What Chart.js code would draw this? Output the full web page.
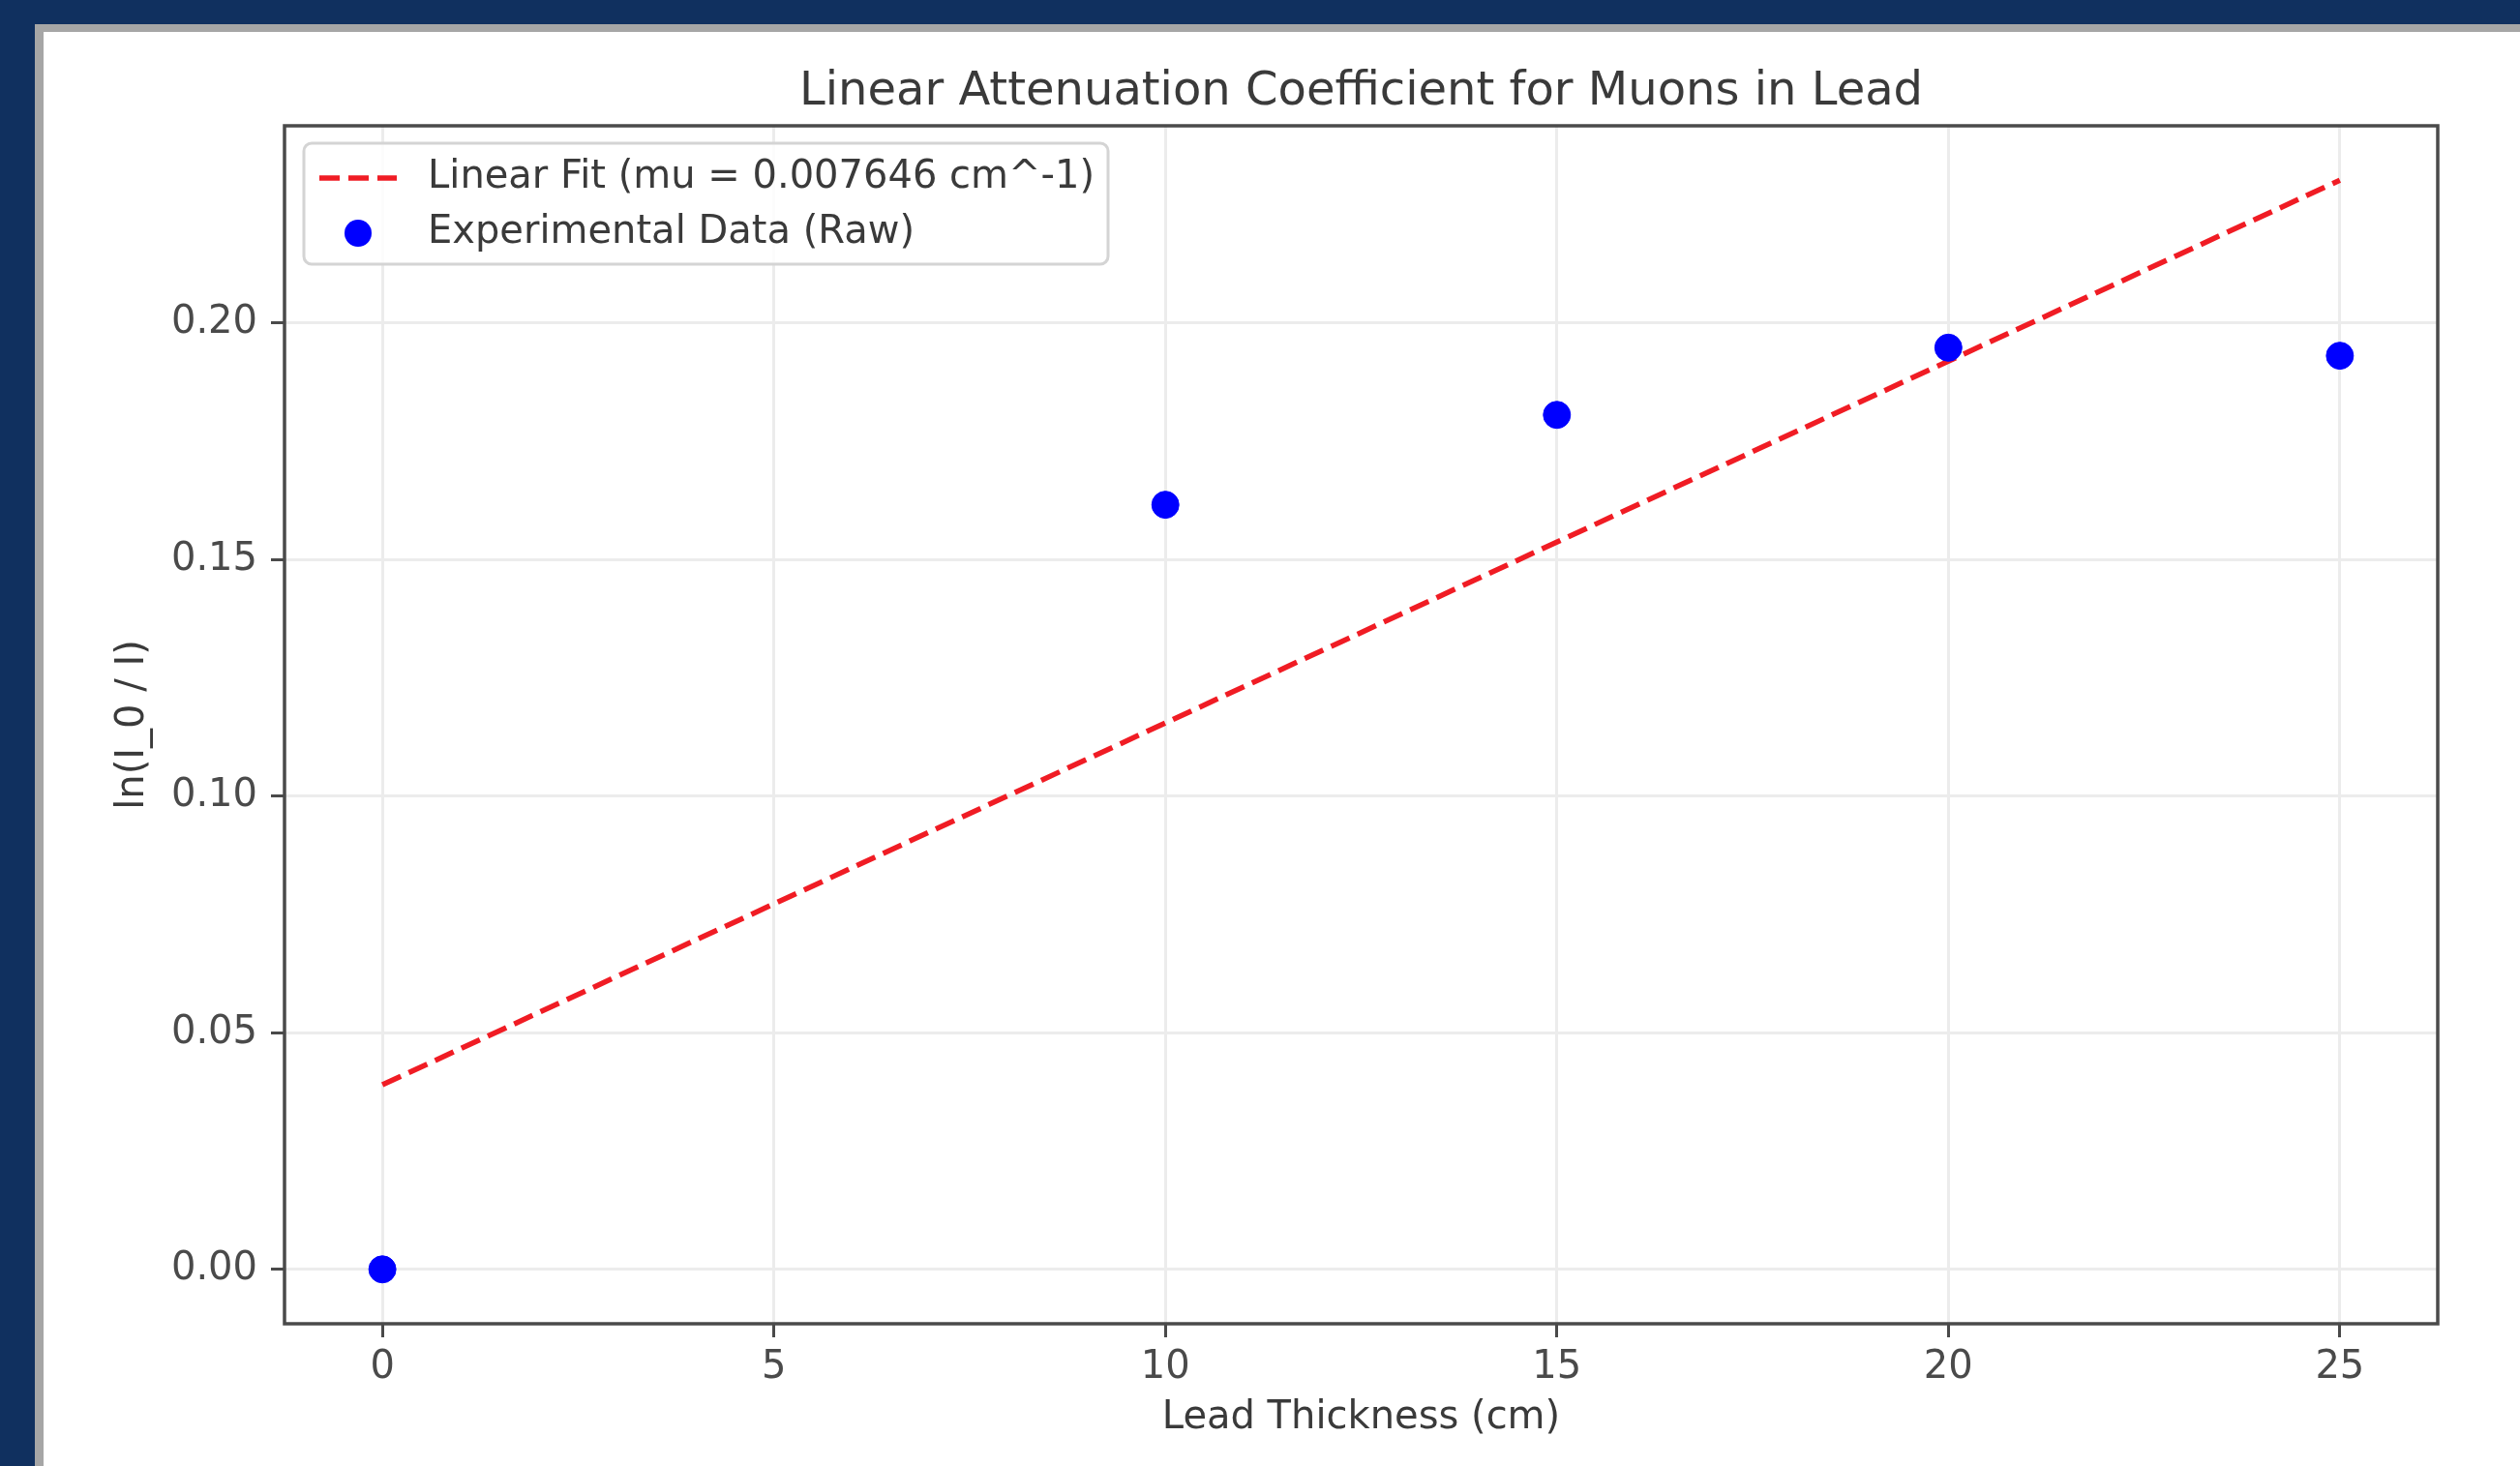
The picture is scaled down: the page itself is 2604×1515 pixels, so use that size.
<!DOCTYPE html>
<html>
<head>
<meta charset="utf-8">
<title>Linear Attenuation Coefficient for Muons in Lead</title>
<script src="https://cdn.jsdelivr.net/npm/chart.js@4.4.1/dist/chart.umd.min.js"></script>
<style>
  html, body { margin: 0; padding: 0; background: #10305f; overflow: hidden; }
  .panel {
    position: absolute; left: 36px; top: 25px;
    width: 2600px; height: 1520px;
    background: #ffffff;
    border-left: 9px solid #a6a6a6;
    border-top: 8px solid #a6a6a6;
  }
  #chart { position: absolute; left: 0; top: 0; }
</style>
</head>
<body>
<div class="panel"></div>
<canvas id="chart" width="2604" height="1515"></canvas>
<script>
/* ---- data ---- */
const thickness   = [0, 10, 15, 20, 25];                 // cm
const lnRatio     = [0.0, 0.1616, 0.1806, 0.1948, 0.1931];
const fitX        = [0, 25];
const fitY        = [0.039, 0.2302];
const xTicks      = [0, 5, 10, 15, 20, 25];
const yTicks      = [0.00, 0.05, 0.10, 0.15, 0.20];
const xRange      = [-1.25, 26.25];
const yRange      = [-0.0115, 0.2417];

const TITLE   = 'Linear Attenuation Coefficient for Muons in Lead';
const FIT_LBL = 'Linear Fit (mu = 0.007646 cm^-1)';
const RAW_LBL = 'Experimental Data (Raw)';

const TEXT  = '#3a3a3a';
const TICK  = '#4a4a4a';
const GRID  = '#ececec';
const FRAME = '#4a4a4a';

Chart.defaults.font.family = '"DejaVu Sans", sans-serif';
Chart.defaults.color = TICK;

// full box around the plot area (matplotlib-style spines)
const framePlugin = {
  id: 'frame',
  afterDatasetsDraw(chart) {
    const { ctx, chartArea: a } = chart;
    ctx.save();
    ctx.strokeStyle = FRAME;
    ctx.lineWidth = 3.5;
    ctx.strokeRect(a.left, a.top, a.right - a.left, a.bottom - a.top);
    ctx.restore();
  }
};

// legend drawn inside the axes, upper left
const innerLegend = {
  id: 'innerLegend',
  afterDraw(chart) {
    const { ctx, chartArea: a } = chart;
    const fit = chart.data.datasets[0], raw = chart.data.datasets[1];
    const x0 = a.left + 20, y0 = a.top + 18, w = 831, h = 125;
    ctx.save();
    ctx.beginPath();
    ctx.roundRect(x0, y0, w, h, 8);
    ctx.fillStyle = 'rgba(255,255,255,0.85)';
    ctx.fill();
    ctx.strokeStyle = '#d4d4d4';
    ctx.lineWidth = 3;
    ctx.stroke();

    const r1 = y0 + 36, r2 = y0 + 93;
    // dashed line handle
    ctx.beginPath();
    ctx.setLineDash(fit.borderDash);
    ctx.strokeStyle = fit.borderColor;
    ctx.lineWidth = fit.borderWidth;
    ctx.moveTo(x0 + 16, r1);
    ctx.lineTo(x0 + 96, r1);
    ctx.stroke();
    ctx.setLineDash([]);
    // marker handle
    ctx.beginPath();
    ctx.arc(x0 + 56, r2, raw.pointRadius, 0, Math.PI * 2);
    ctx.fillStyle = raw.backgroundColor;
    ctx.fill();

    ctx.fillStyle = TEXT;
    ctx.font = '40px "DejaVu Sans", sans-serif';
    ctx.textBaseline = 'middle';
    ctx.textAlign = 'left';
    ctx.fillText(fit.label, x0 + 128, r1);
    ctx.fillText(raw.label, x0 + 128, r2);
    ctx.restore();
  }
};

new Chart(document.getElementById('chart'), {
  type: 'scatter',
  data: {
    datasets: [
      {
        label: FIT_LBL,
        data: fitX.map((x, i) => ({ x, y: fitY[i] })),
        showLine: true,
        borderColor: '#f01c24',
        borderWidth: 5.5,
        borderDash: [21, 9],
        pointRadius: 0,
        order: 2
      },
      {
        label: RAW_LBL,
        data: thickness.map((x, i) => ({ x, y: lnRatio[i] })),
        backgroundColor: '#0000ff',
        borderColor: '#0000ff',
        pointRadius: 14,
        pointHoverRadius: 14,
        order: 1
      }
    ]
  },
  options: {
    responsive: false,
    animation: false,
    devicePixelRatio: 1,
    layout: { padding: { left: 0, right: 85, top: 0, bottom: 0 } },
    plugins: {
      legend: { display: false },
      tooltip: { enabled: false },
      title: {
        display: true,
        text: TITLE,
        color: TEXT,
        fullSize: false,
        font: { size: 48, weight: 'normal', lineHeight: 1 },
        padding: { top: 72, bottom: 10 }
      }
    },
    scales: {
      x: {
        type: 'linear',
        min: xRange[0], max: xRange[1],
        afterBuildTicks: s => { s.ticks = xTicks.map(v => ({ value: v })); },
        afterFit: s => { s.height = 147; },
        ticks: { color: TICK, font: { size: 40 }, padding: 8, callback: v => String(v) },
        grid: { color: GRID, lineWidth: 3, drawTicks: true, tickLength: 14, tickColor: FRAME, tickWidth: 3 },
        border: { display: false },
        title: {
          display: true, text: 'Lead Thickness (cm)', color: TEXT,
          font: { size: 40, lineHeight: 1.2 }, padding: { top: 0, bottom: 25 }
        }
      },
      y: {
        type: 'linear',
        min: yRange[0], max: yRange[1],
        afterBuildTicks: s => { s.ticks = yTicks.map(v => ({ value: v })); },
        afterFit: s => { s.width = 294; },
        ticks: { color: TICK, font: { size: 40 }, padding: 14, callback: v => v.toFixed(2) },
        grid: { color: GRID, lineWidth: 3, drawTicks: true, tickLength: 14, tickColor: FRAME, tickWidth: 3 },
        border: { display: false },
        title: {
          display: true, text: 'ln(I_0 / I)', color: TEXT,
          font: { size: 40, lineHeight: 1.2 }, padding: { top: 114, bottom: 0 }
        }
      }
    }
  },
  plugins: [framePlugin, innerLegend]
});
</script>
</body>
</html>
